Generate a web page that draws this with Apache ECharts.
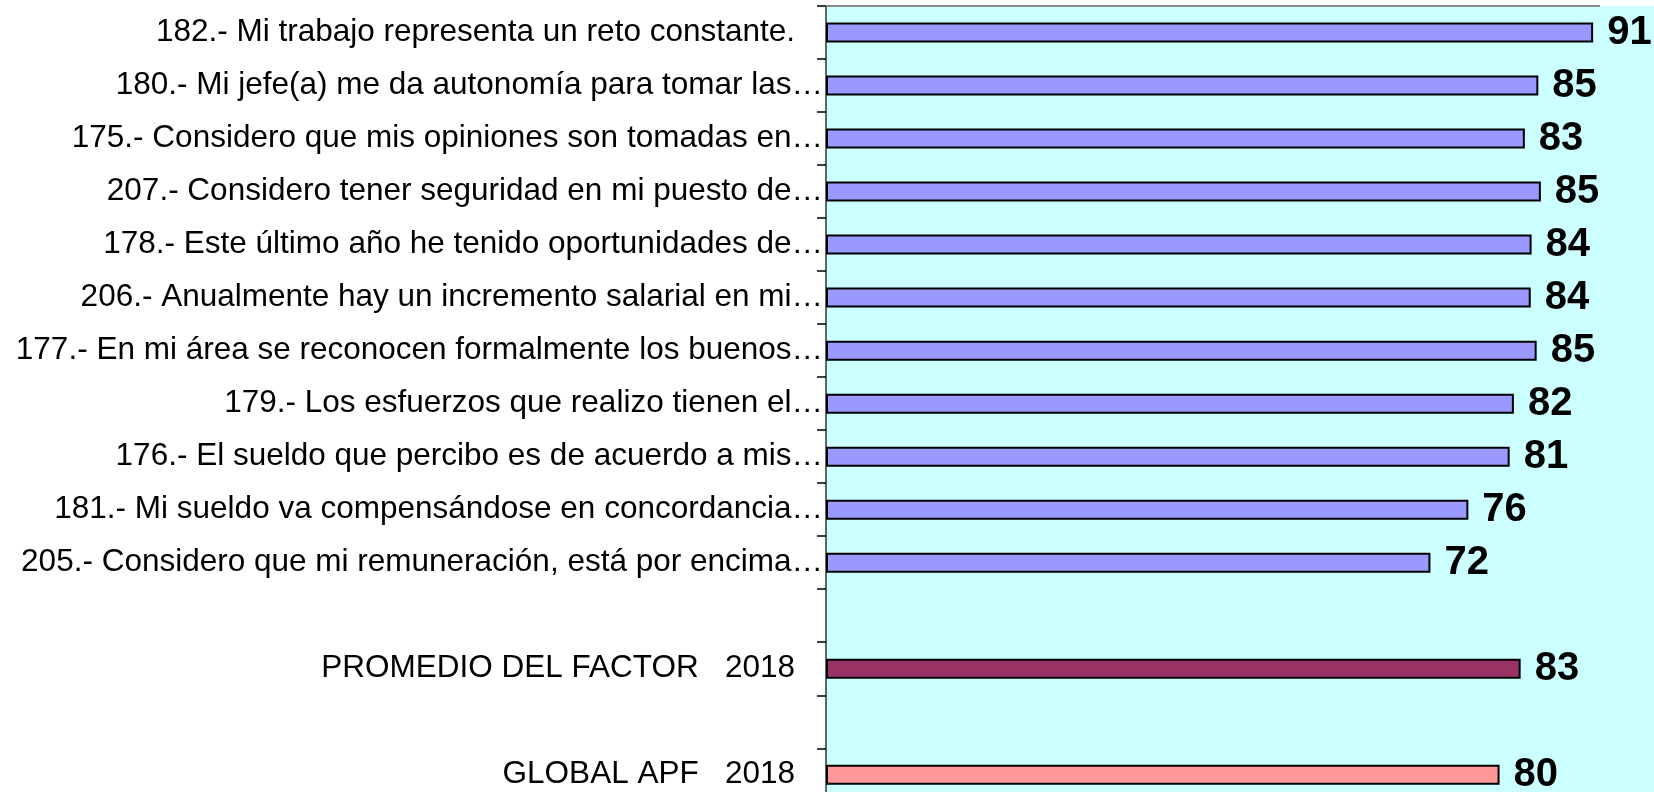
<!DOCTYPE html>
<html><head><meta charset="utf-8">
<script src="https://cdn.jsdelivr.net/npm/echarts@6/dist/echarts.min.js"></script>
<style>html,body{margin:0;padding:0;background:#fff}#c{width:1654px;height:792px}</style>
</head><body><div id="c"></div>
<script>
const categories = [
  '182.- Mi trabajo representa un reto constante.',
  '180.- Mi jefe(a) me da autonomía para tomar las…',
  '175.- Considero que mis opiniones son tomadas en…',
  '207.- Considero tener seguridad en mi puesto de…',
  '178.- Este último año he tenido oportunidades de…',
  '206.- Anualmente hay un incremento salarial en mi…',
  '177.- En mi área se reconocen formalmente los buenos…',
  '179.- Los esfuerzos que realizo tienen el…',
  '176.- El sueldo que percibo es de acuerdo a mis…',
  '181.- Mi sueldo va compensándose en concordancia…',
  '205.- Considero que mi remuneración, está por encima…',
  '',
  'PROMEDIO DEL FACTOR   2018',
  '',
  'GLOBAL APF   2018'
];
const values = [91.0, 84.5, 82.9, 84.8, 83.7, 83.6, 84.3, 81.6, 81.1, 76.2, 71.7, null, 82.4, null, 79.9];
const shownLabels = ['91','85','83','85','84','84','85','82','81','76','72','','83','','80'];
const barColors = ['#9999FF','#9999FF','#9999FF','#9999FF','#9999FF','#9999FF','#9999FF','#9999FF','#9999FF','#9999FF','#9999FF','#9999FF','#993366','#993366','#FF9999'];

const chart = echarts.init(document.getElementById('c'), null, {renderer: 'canvas'});
const labelFont = 'Liberation Sans, Arial, sans-serif';
chart.setOption({
  animation: false,
  backgroundColor: '#ffffff',
  grid: {
    left: 826, top: 6, right: -15, bottom: -9.3,
    containLabel: false, outerBoundsMode: 'none',
    show: true, backgroundColor: '#CCFFFF', borderWidth: 0
  },
  graphic: [{
    type: 'line', silent: true, z: 10,
    shape: {x1: 826, y1: 6, x2: 1600, y2: 6},
    style: {stroke: '#8a8a8a', lineWidth: 2}
  }],
  xAxis: {type: 'value', min: 0, max: 100, show: false},
  yAxis: {
    type: 'category', inverse: true, data: categories,
    axisLine: {show: true, lineStyle: {color: '#333', width: 1.5}},
    axisTick: {show: true, interval: 0, length: 9, lineStyle: {color: '#000', width: 1.5}},
    axisLabel: {
      interval: 0, margin: 3, color: '#000', fontSize: 31.5, fontFamily: labelFont,
      formatter: function (v) {
        if (!v) return '';
        return v.endsWith('…') ? '{t|' + v + '}' : '{f|' + v + '}';
      },
      rich: {
        t: {fontSize: 31.5, fontFamily: labelFont, color: '#000'},
        f: {fontSize: 31.5, fontFamily: labelFont, color: '#000', padding: [0, 28, 0, 0]}
      }
    },
    splitLine: {show: false}
  },
  series: [{
    type: 'bar',
    barWidth: 20,
    data: values.map(function (v, i) {
      return {value: v, itemStyle: {color: barColors[i], borderColor: '#000', borderWidth: 2}};
    }),
    label: {
      show: true, position: 'right', distance: 14,
      color: '#000', fontSize: 40, fontWeight: 'bold', fontFamily: labelFont,
      formatter: function (p) { return shownLabels[p.dataIndex]; }
    }
  }]
});
</script>
</body></html>
